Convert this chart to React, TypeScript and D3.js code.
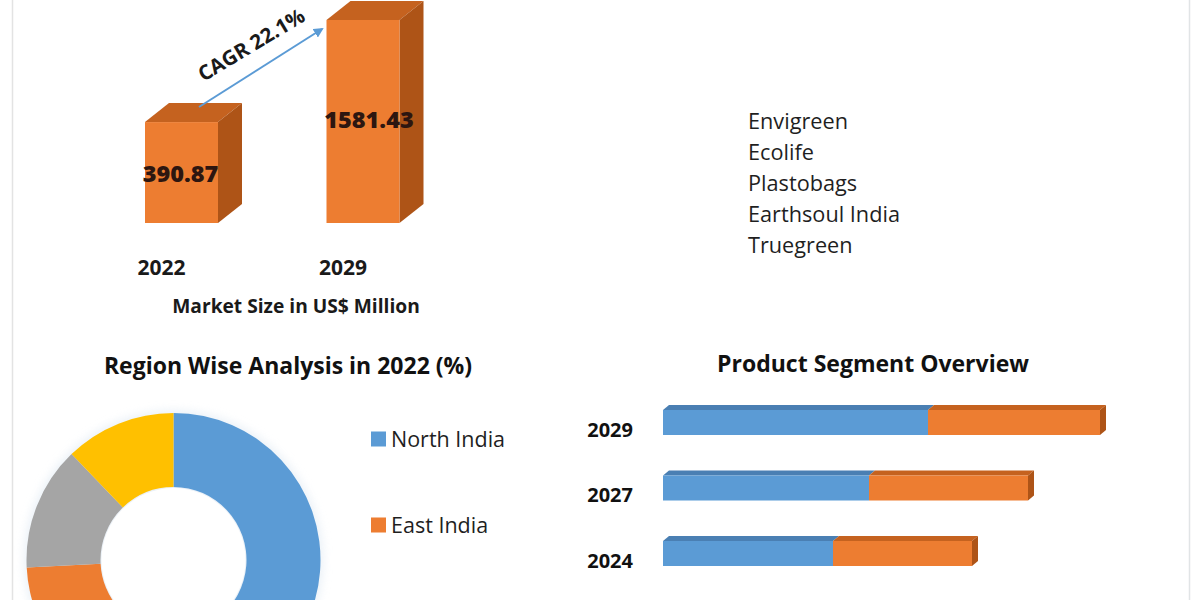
import React from "react";
import * as d3 from "d3";

// ---------- data ----------
const marketYears = ["2022", "2029"];
const marketValues = [390.87, 1581.43];
const marketValueLabels = ["390.87", "1581.43"];
const cagrLabel = "CAGR 22.1%";
const marketAxisTitle = "Market Size in US$ Million";

const keyPlayers = ["Envigreen", "Ecolife", "Plastobags", "Earthsoul India", "Truegreen"];

const regionTitle = "Region Wise Analysis in 2022 (%)";
const regions = ["North India", "East India", "West India", "South India"];
const regionShares = [52.5, 21.7, 13.6, 12.2];
const regionColors = ["#5B9BD5", "#ED7D31", "#A5A5A5", "#FFC000"];

const segmentTitle = "Product Segment Overview";
const segmentYears = ["2029", "2027", "2024", "2022"];
const segmentA = [265, 206, 170, 167];
const segmentB = [172, 159, 139, 123];

const FONT = "'Open Sans', 'Noto Sans', sans-serif";

export default function App() {
  // ---------- top-left 3D column chart ----------
  const xCol = d3.scalePoint<string>().domain(marketYears).range([181.5, 363]);
  const hCol = d3.scaleSqrt().domain([0, 1581.43]).range([0, 203]);
  const colBase = 223;
  const colW = 73;
  const dX = 24;
  const dY = -19;

  // ---------- donut ----------
  const cx = 173.5;
  const cy = 560;
  const pie = d3.pie<number>().sort(null).value((d) => d).startAngle(0).endAngle(2 * Math.PI);
  const arcs = pie(regionShares);
  const arcGen = d3.arc<d3.PieArcDatum<number>>().innerRadius(73).outerRadius(147);
  const legendY = d3.scalePoint<string>().domain(regions.slice(0, 3)).range([439, 611]);

  // ---------- horizontal 3D bars ----------
  const xSeg = d3.scaleLinear().domain([0, 437]).range([663, 1100]);
  const ySeg = d3.scalePoint<string>().domain(segmentYears).range([410, 606.5]);
  const segH = 25;
  const sdx = 6;
  const sdy = -5;

  // ---------- key players ----------
  const yPlayers = d3.scalePoint<string>().domain(keyPlayers).range([129, 253]);

  const poly = (pts: [number, number][]) => pts.map((p) => p.join(",")).join(" ");

  return (
    <svg
      width={1200}
      height={600}
      style={{ position: "absolute", left: 0, top: 0, background: "#ffffff", overflow: "hidden" }}
      fontFamily={FONT}
    >
      <rect x={0} y={0} width={1200} height={600} fill="#ffffff" />
      <line x1={12.5} y1={0} x2={12.5} y2={600} stroke="#e3e3e3" strokeWidth={1.5} />
      <line x1={1189.5} y1={0} x2={1189.5} y2={600} stroke="#e1e4e6" strokeWidth={1.5} />

      {/* 3D columns */}
      {marketYears.map((yr, i) => {
        const c = xCol(yr)!;
        const x0 = c - colW / 2;
        const x1 = c + colW / 2;
        const yTop = colBase - hCol(marketValues[i]);
        return (
          <g key={yr}>
            <polygon
              points={poly([[x0, yTop], [x0 + dX, yTop + dY], [x1 + dX, yTop + dY], [x1, yTop]])}
              fill="#C5621F"
            />
            <polygon
              points={poly([[x1, yTop], [x1 + dX, yTop + dY], [x1 + dX, colBase + dY], [x1, colBase]])}
              fill="#AE5417"
            />
            <rect x={x0} y={yTop} width={colW} height={colBase - yTop} fill="#ED7D31" />
            <text
              x={c - 20}
              y={275}
              textAnchor="middle"
              fontWeight={700}
              fontSize={21}
              fill="#1a1a1a"
            >
              {yr}
            </text>
          </g>
        );
      })}
      <text x={180.5} y={182} textAnchor="middle" fontWeight={800} fontSize={23.5} fill="#2d1610">
        {marketValueLabels[0]}
      </text>
      <text x={369} y={128} textAnchor="middle" fontWeight={800} fontSize={23.5} fill="#2d1610">
        {marketValueLabels[1]}
      </text>
      <text x={296} y={313} textAnchor="middle" fontWeight={700} fontSize={19.2} fill="#1a1a1a">
        {marketAxisTitle}
      </text>

      {/* CAGR arrow */}
      <defs>
        <marker id="arrowHead" viewBox="0 0 10 10" refX={8} refY={5} markerWidth={5} markerHeight={5} orient="auto">
          <path d="M0,0 L10,5 L0,10 z" fill="#5B9BD5" />
        </marker>
        <filter id="soft" x="-20%" y="-20%" width="140%" height="140%">
          <feGaussianBlur stdDeviation="4" />
        </filter>
      </defs>
      <line x1={199} y1={107} x2={322} y2={29} stroke="#5B9BD5" strokeWidth={2} markerEnd="url(#arrowHead)" />
      <text
        transform="translate(255,51) rotate(-31)"
        textAnchor="middle"
        fontWeight={700}
        fontSize={20.5}
        fill="#1a1a1a"
      >
        {cagrLabel}
      </text>

      {/* Key players list */}
      {keyPlayers.map((p) => (
        <text key={p} x={748} y={yPlayers(p)!} fontSize={21.7} fill="#1f1f1f">
          {p}
        </text>
      ))}

      {/* Region donut */}
      <text x={288} y={374} textAnchor="middle" fontWeight={700} fontSize={23} fill="#111">
        {regionTitle}
      </text>
      <circle cx={cx} cy={cy} r={150} fill="#dfe9f3" filter="url(#soft)" opacity={0.6} />
      <g transform={`translate(${cx},${cy})`}>
        {arcs.map((a, i) => (
          <path key={regions[i]} d={arcGen(a)!} fill={regionColors[i]} />
        ))}
      </g>
      <circle cx={cx} cy={cy} r={72} fill="#ffffff" />
      {regions.slice(0, 2).map((r, i) => {
        const y = legendY(r)!;
        return (
          <g key={r}>
            <rect x={371} y={y - 7.5} width={15} height={15} fill={regionColors[i]} />
            <text x={391} y={y + 8} fontSize={21.5} fill="#1f1f1f">
              {r}
            </text>
          </g>
        );
      })}

      {/* Product segment bars */}
      <text x={873} y={372} textAnchor="middle" fontWeight={700} fontSize={23} fill="#111">
        {segmentTitle}
      </text>
      {segmentYears.map((yr, i) => {
        const yTop = ySeg(yr)!;
        const x0 = xSeg(0);
        const xm = xSeg(segmentA[i]);
        const x1 = xSeg(segmentA[i] + segmentB[i]);
        return (
          <g key={yr}>
            <polygon
              points={poly([[x0, yTop], [x0 + sdx, yTop + sdy], [xm + sdx, yTop + sdy], [xm, yTop]])}
              fill="#4A7FB3"
            />
            <polygon
              points={poly([[xm, yTop], [xm + sdx, yTop + sdy], [x1 + sdx, yTop + sdy], [x1, yTop]])}
              fill="#C5621F"
            />
            <polygon
              points={poly([[x1, yTop], [x1 + sdx, yTop + sdy], [x1 + sdx, yTop + segH + sdy], [x1, yTop + segH]])}
              fill="#AE5417"
            />
            <rect x={x0} y={yTop} width={xm - x0} height={segH} fill="#5B9BD5" />
            <rect x={xm} y={yTop} width={x1 - xm} height={segH} fill="#ED7D31" />
            {yTop + segH / 2 + 14 < 590 && (
              <text x={633} y={yTop + segH / 2 + 14} textAnchor="end" fontWeight={700} fontSize={20} fill="#111">
                {yr}
              </text>
            )}
          </g>
        );
      })}
    </svg>
  );
}
